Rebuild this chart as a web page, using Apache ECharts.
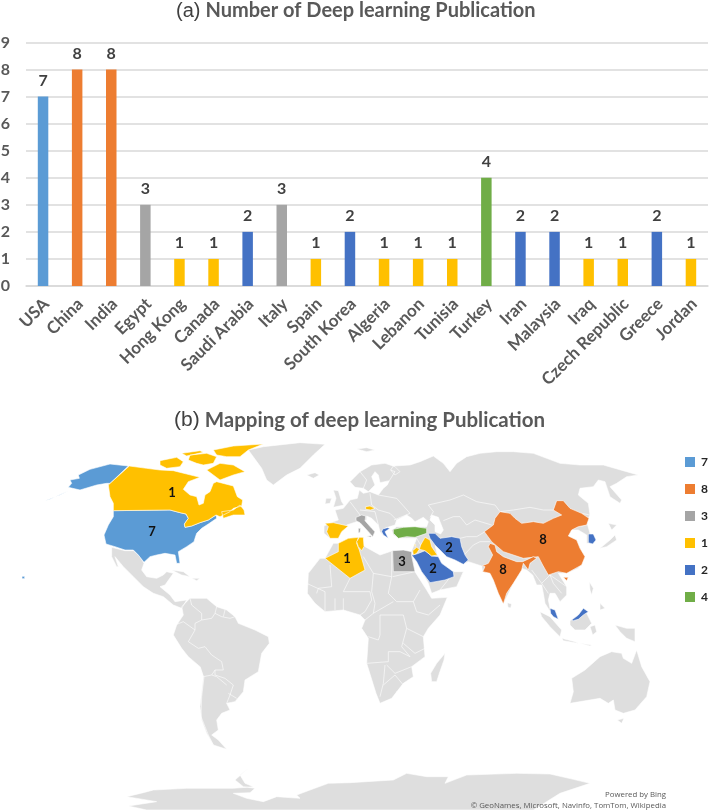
<!DOCTYPE html>
<html>
<head>
<meta charset="utf-8">
<style>
  html, body { margin: 0; padding: 0; background: #fff; }
  #main { width: 709px; height: 812px; }
</style>
<script src="https://cdn.jsdelivr.net/npm/echarts@6/dist/echarts.min.js"></script>
</head>
<body>
<div id="main"></div>
<script>
// bar chart values
const categories = ['USA', 'China', 'India', 'Egypt', 'Hong Kong', 'Canada', 'Saudi Arabia', 'Italy', 'Spain', 'South Korea',
  'Algeria', 'Lebanon', 'Tunisia', 'Turkey', 'Iran', 'Malaysia', 'Iraq', 'Czech Republic', 'Greece', 'Jordan'];
const publications = [7, 8, 8, 3, 1, 1, 2, 3, 1, 2, 1, 1, 1, 4, 2, 2, 1, 1, 2, 1];

// legend, same colours for both charts
const legendValues = [7, 8, 3, 1, 2, 4];
const legendColors = ['#5B9BD5', '#ED7D31', '#A5A5A5', '#FFC000', '#4472C4', '#70AD47'];

// countries that print their number on the map
const labelledOnMap = ['USA', 'Canada', 'Algeria', 'Egypt', 'Saudi Arabia', 'Iran', 'China', 'India'];

// map outlines were traced at 3x, each list is relative to a corner of the map sheet
const NA = [0, 400], ME = [300, 430], SAM = [0, 620], AF = [300, 560], SEA = [520, 560];
const ring = (tile, flat) => {
  const pts = [];
  for (let i = 0; i < flat.length; i += 2) pts.push([tile[0] + flat[i] / 3, tile[1] + flat[i + 1] / 3]);
  return pts;
};

const land = [
  // Eurasia, with the Caspian as a hole
  [ring(ME, [72,288,100,275,115,270,105,240,130,235,150,210,172,205,178,180,190,190,210,185,235,195,250,175,262,165,268,152,240,158,235,135,225,125,215,140,225,165,205,185,190,175,165,172,150,155,180,125,215,105,255,100,285,110,300,125,285,135,272,120,280,108,330,105,360,95,400,78,430,100,450,125,470,100,500,80,540,70,590,65,640,65,700,70,780,100,840,105,910,105,980,125,1015,135,980,140,950,160,930,170,965,210,960,220,930,200,915,155,895,150,880,170,840,175,835,195,865,220,870,255,860,275,870,310,885,325,880,340,860,340,860,315,835,300,815,300,805,318,830,330,840,355,855,380,835,415,800,430,775,430,800,470,800,495,780,515,765,490,750,490,745,510,750,535,775,568,760,560,735,520,730,490,725,465,710,465,698,435,680,420,665,415,640,460,610,522,580,450,570,430,548,425,545,408,505,395,490,403,465,390,440,378,420,360,405,345,412,375,425,400,460,425,490,425,470,470,420,480,395,490,385,460,365,425,345,380,335,362,340,350,350,325,295,325,280,315,275,300,290,290,310,290,345,290,380,290,385,275,370,262,345,275,335,265,320,255,290,270,285,285,262,292,255,295,245,305,250,318,240,305,235,285,215,265,200,258,200,270,170,275,140,285,130,295,115,325,90,325,72,310]),
   ring(ME, [390,270,405,285,405,305,422,312,430,300,420,275,415,262,395,255])],
  [ring(AF, [100,-50,115,-50,175,-68,195,-40,240,-15,278,-28,335,-25,345,35,380,90,395,115,442,112,420,165,385,205,370,230,375,290,335,320,340,350,310,370,275,415,240,430,228,400,200,310,205,235,185,205,195,180,180,165,130,150,75,155,45,130,22,100,25,40,60,-5,75,-5])],
  [ring(AF, [435,280,432,300,418,340,410,365,395,365,392,340,410,310])],
  // Greenland, Iceland, UK, Ireland, Svalbard
  [ring(NA, [745,150,790,140,900,128,975,133,940,165,900,205,860,225,820,255,800,240,785,205])],
  [ring(ME, [20,135,45,128,58,135,40,145])],
  [ring(ME, [100,180,115,182,125,215,132,225,100,232,108,205])],
  [ring(ME, [78,205,95,205,90,220,75,222])],
  [ring(ME, [170,57,200,53,225,60,200,65])],
  // Mexico down to Panama, Caribbean
  [ring(NA, [335,442,375,452,400,452,420,470,432,490,425,510,440,530,470,535,490,525,500,515,520,520,495,555,480,560,510,585,525,605,560,600,545,625,520,615,490,590,460,580,430,560,400,530,370,500,345,470,355,500,350,500,335,470])],
  [ring(NA, [515,510,550,515,570,530,545,525])],
  [ring(NA, [575,535,600,535,590,542])],
  // South America
  [ring(SAM, [570,-65,620,-65,650,-40,680,-30,705,-10,715,10,765,30,805,50,808,70,785,100,775,155,735,180,730,215,705,245,680,250,690,270,665,280,650,300,655,330,635,345,655,360,680,388,640,375,620,340,605,300,600,260,610,170,600,140,565,110,545,85,520,45,530,15,550,-15,545,-40])],
  // Japan, Sri Lanka, Philippines, Indonesia
  [ring(ME, [930,330,945,315,950,330,920,350,900,355])],
  [ring(ME, [925,280,950,285,935,300])],
  [ring(ME, [622,518,635,522,632,534,624,532])],
  [ring(SEA, [208,65,220,85,215,105,210,90])],
  [ring(SEA, [240,130,255,145,240,150])],
  [ring(SEA, [150,182,175,165,195,150,215,190,195,210,165,210,150,195])],
  [ring(SEA, [60,155,90,170,125,210,120,230,90,200,65,170])],
  [ring(SEA, [125,235,165,245,175,250,130,242])],
  [ring(SEA, [180,250,215,255,210,258])],
  [ring(SEA, [210,200,225,195,230,215,218,225])],
  [ring(SEA, [285,195,320,205,345,205,345,245,320,235,300,215])],
  // Australia, Tasmania
  [ring(SEA, [155,355,195,330,240,290,275,275,305,280,310,295,335,310,350,270,365,320,390,365,380,410,345,450,310,460,285,450,280,420,265,430,240,415,150,430,160,395])],
  [ring(SEA, [292,480,312,475,305,490])],
  // Antarctica, cut by the sheet
  [ring(SAM, [380,530,430,518,460,510,560,505,700,505,760,500,735,490,720,465,745,445,705,480,730,500,765,505,750,518,700,520,740,535,790,545,830,530,900,535,890,525,930,510,985,490,1050,488,1180,480,1220,460,1280,470,1345,470,1335,490,1400,465,1550,460,1650,462,1720,478,1770,490,1680,520,1600,570,440,570,385,558,470,545])]
];

const borders = [
  // Europe
  [ME, [150,215,180,255,170,275]], [ME, [210,190,215,225,235,240,270,250,290,270]], [ME, [180,240,225,245,235,285]],
  [ME, [235,195,290,205,330,250,282,270]], [ME, [268,152,285,125,272,120]], [ME, [180,125,200,150,190,175]],
  // Central Asia, Middle East
  [ME, [390,262,400,245,385,225,450,210,490,195,530,215,585,225,600,245,640,240,690,232,730,240,765,240]],
  [ME, [430,272,460,260,480,260,500,285,525,270,575,285]], [ME, [480,325,500,320,530,320,555,305]],
  [ME, [495,372,520,345,540,335,570,335]], [ME, [462,425,440,455,420,480]], [ME, [350,325,362,345]],
  [ME, [815,300,835,290,860,285]], [ME, [870,255,845,250]],
  // South East Asia
  [SEA, [35,30,65,70,90,45,100,70,125,100]], [SEA, [65,70,85,100]], [SEA, [90,45,140,80]],
  // Africa
  [AF, [90,15,95,80,55,85,50,100]], [AF, [150,55,130,95,210,95,215,120,195,155,180,165]], [AF, [190,-10,220,40,275,50,265,100,290,125,340,125,350,155]],
  [AF, [220,40,215,95,225,130,220,160,195,180]], [AF, [220,160,280,125]], [AF, [275,-25,275,50]], [AF, [278,50,345,35]],
  [AF, [340,125,360,90]], [AF, [350,155,385,165,420,135]], [AF, [240,165,240,225,235,240,205,230]], [AF, [240,165,310,165,320,205,305,260,330,290,300,275,265,275,265,305,200,310]],
  [AF, [320,205,370,230]], [AF, [310,250,345,280,375,265]], [AF, [255,315,250,370,240,410]], [AF, [250,375,285,345,310,375]], [AF, [260,315,285,340,335,320]],
  [AF, [105,115,105,150]], [AF, [130,115,130,150]], [AF, [75,95,75,155]], [AF, [20,70,75,95]], [AF, [290,395,300,392,302,400,293,404,290,395]],
  // South America
  [SAM, [570,-65,575,-45,605,-20,605,0,585,10,585,30]], [SAM, [605,0,635,-5,645,-20,665,-10,690,-5,705,-10]], [SAM, [650,-40,645,-20]], [SAM, [675,-30,670,-10]],
  [SAM, [525,15,550,5,585,30,565,65,595,85,615,80,635,105,665,125,670,150,645,150,645,165,675,175,700,195,690,225,680,250]],
  [SAM, [612,170,605,230,603,290,625,345,640,375]], [SAM, [610,170,635,165,650,170,680,195]], [SAM, [645,150,635,165]], [SAM, [685,220,710,235]], [SAM, [600,140,610,170]]
];

const countries = [
  { name: 'USA', value: 7, cp: [152, 532], shapes: [
    [ring(NA, [340,332,510,330,540,338,558,342,565,355,553,372,555,382,575,378,600,368,625,360,648,345,650,355,625,372,605,385,590,400,585,415,582,425,560,440,535,455,540,490,530,490,525,465,495,460,470,465,450,470,432,487,415,465,400,450,375,450,345,440,318,432,312,405,325,375,340,350])],
    [ring(NA, [385,198,330,192,270,208,235,225,238,235,210,240,215,250,205,262,240,270,290,255,320,250,330,250,350,262,352,290,340,265,325,255])],
    [ring(NA, [205,272,150,298,135,302,180,285])],
    [ring(NA, [66,529,74,529,74,536,66,536])]
  ] },
  { name: 'Canada', value: 1, cp: [172, 493], shapes: [
    [ring(NA, [388,198,440,205,480,210,520,212,560,222,600,232,565,245,550,268,570,285,590,290,597,315,610,310,615,285,630,275,640,250,650,245,700,258,712,290,728,300,725,318,700,325,690,335,660,350,648,345,625,360,600,368,575,378,555,382,553,372,565,355,558,342,540,338,510,330,340,332,340,310,330,290,325,255])],
    [ring(NA, [665,335,700,330,720,315,732,330,735,345,700,345,670,355])],
    [ring(NA, [620,210,660,190,700,195,735,215,700,225,660,240,640,225])],
    [ring(NA, [480,182,530,172,550,185,540,200,500,205,480,195])],
    [ring(NA, [640,150,700,138,790,132,745,150,720,170,680,170,650,165])],
    [ring(NA, [570,165,620,160,650,170,640,190,610,195,590,190,565,180])],
    [ring(NA, [545,160,600,152,610,157,560,168])]
  ] },
  { name: 'China', value: 8, cp: [543, 540], shapes: [
    [ring(ME, [553,305,580,285,585,265,600,245,630,250,645,265,665,280,700,275,730,280,760,265,785,255,760,240,770,212,790,212,810,235,845,250,867,265,860,285,835,290,815,300,805,318,830,330,840,355,855,380,845,405,800,430,775,425,745,435,728,405,715,380,670,385,610,365,575,335])],
    [ring(ME, [790,442,805,442,800,452])]
  ] },
  { name: 'India', value: 8, cp: [503, 570], shapes: [
    [ring(ME, [570,340,585,345,590,365,610,380,650,395,668,395,700,380,710,385,690,400,685,420,670,400,665,420,640,460,620,490,610,522,595,490,580,450,570,430,548,425,555,410,545,408,565,400,578,375,565,350])]
  ] },
  { name: 'Egypt', value: 3, cp: [402, 562], shapes: [[ring(ME, [278,362,310,360,335,365,335,378,345,425,280,425])]] },
  { name: 'Saudi Arabia', value: 2, cp: [433, 569], shapes: [[ring(ME, [335,375,350,372,375,362,395,378,415,380,425,400,460,425,462,440,435,450,390,458,380,445,365,425,350,395])]] },
  { name: 'Iran', value: 2, cp: [449, 548], shapes: [[ring(ME, [385,310,405,310,420,325,455,320,480,325,485,350,495,375,505,390,490,403,465,390,440,380,420,360,405,345,390,325])]] },
  { name: 'Iraq', value: 1, shapes: [[ring(ME, [362,345,375,322,390,330,395,350,412,375,395,378,375,362,358,358])]] },
  { name: 'Jordan', value: 1, shapes: [[ring(ME, [338,362,350,352,358,358,350,370,340,375])]] },
  { name: 'Lebanon', value: 1, shapes: [[ring(ME, [342,345,347,342,346,350])]] },
  { name: 'Turkey', value: 4, shapes: [[ring(ME, [280,298,310,292,345,290,380,295,380,310,345,322,320,320,295,325,280,310])]] },
  { name: 'Greece', value: 2, shapes: [[ring(ME, [248,297,262,293,270,295,255,305,265,325,250,315,245,305])]] },
  { name: 'Italy', value: 3, shapes: [
    [ring(ME, [168,262,185,255,197,258,195,272,215,295,225,305,218,320,205,305,180,278,168,272])],
    [ring(ME, [175,295,182,295,180,308,175,308])],
    [ring(ME, [200,318,215,317,212,322])]
  ] },
  { name: 'Czech Republic', value: 1, shapes: [[ring(ME, [197,230,210,228,225,235,212,240,197,238])]] },
  { name: 'Spain', value: 1, shapes: [[ring(ME, [75,280,100,278,145,288,125,305,115,325,90,325,80,305,85,290])]] },
  { name: 'Algeria', value: 1, cp: [347, 559], shapes: [[ring(ME, [115,340,145,325,175,322,170,340,178,360,195,420,150,445,75,385,115,365])]] },
  { name: 'Tunisia', value: 1, shapes: [[ring(ME, [178,322,190,322,192,350,185,362,175,350,170,335])]] },
  { name: 'South Korea', value: 2, shapes: [[ring(ME, [865,312,880,312,888,330,878,342,865,338])]] },
  { name: 'Malaysia', value: 2, shapes: [
    [ring(SEA, [90,145,105,150,115,178,100,170,92,160])],
    [ring(SEA, [155,180,175,165,190,145,205,155,190,165,175,178,160,182])]
  ] }
];

const worldMap = {
  type: 'FeatureCollection',
  features: [
    { type: 'Feature', properties: { name: 'land' }, geometry: { type: 'MultiPolygon', coordinates: land } },
    { type: 'Feature', properties: { name: 'borders' }, geometry: { type: 'MultiLineString', coordinates: borders.map(b => ring(b[0], b[1])) } }
  ].concat(countries.map(c => ({
    type: 'Feature',
    properties: c.cp ? { name: c.name, cp: c.cp } : { name: c.name },
    geometry: { type: 'MultiPolygon', coordinates: c.shapes }
  })))
};
echarts.registerMap('sheet', worldMap);

const colorOf = (v) => legendColors[legendValues.indexOf(v)];

// one bar series per legend entry, laid over each other so every category keeps its slot
const barSeries = legendValues.map((lv) => ({
  type: 'bar',
  name: String(lv),
  data: publications.map(v => (v === lv ? v : null)),
  barWidth: 10.5,
  barGap: '-100%',
  silent: true,
  itemStyle: { color: colorOf(lv) },
  label: { show: true, position: 'top', distance: 8, fontFamily: 'Lato', fontWeight: 'bold', fontSize: 16, color: '#404040' }
}));

const chart = echarts.init(document.getElementById('main'));
const titleRich = (size, tsize) => ({
  p: { fontFamily: 'Liberation Sans', fontWeight: 'normal', fontSize: size, color: '#404040' },
  t: { fontFamily: 'Lato', fontWeight: 'bold', fontSize: tsize, color: '#595959' }
});
const footerStyle = { fontFamily: 'Open Sans', fontWeight: 'normal', fontSize: 7.8, color: '#595959' };
chart.setOption({
  animation: false,
  backgroundColor: '#fff',
  title: [
    { left: 171, top: -4, text: '{p|(a)} {t|Number of Deep learning Publication}', textStyle: { rich: titleRich(20, 20) } },
    { left: 169, top: 405, text: '{p|(b)} {t|Mapping of deep learning Publication}', textStyle: { rich: titleRich(21, 20.5) } },
    { right: 38, top: 786, text: 'Powered by Bing', textStyle: footerStyle },
    { right: 38, top: 797, text: '© GeoNames, Microsoft, Navinfo, TomTom, Wikipedia', textStyle: footerStyle }
  ],
  grid: { left: 26, top: 42.5, width: 682, height: 243.5, outerBoundsMode: 'none' },
  xAxis: {
    type: 'category',
    data: categories,
    axisLine: { lineStyle: { color: '#D9D9D9', width: 1.5 } },
    axisTick: { show: false },
    axisLabel: { interval: 0, rotate: 45, margin: 12, verticalAlign: 'top', lineHeight: 9, fontFamily: 'Lato', fontWeight: 'bold', fontSize: 17, color: '#595959' }
  },
  yAxis: {
    type: 'value',
    min: 0,
    max: 9,
    interval: 1,
    axisLine: { show: false },
    axisTick: { show: false },
    splitLine: { lineStyle: { color: '#D9D9D9', width: 1.5 } },
    axisLabel: { margin: 16, fontFamily: 'Lato', fontWeight: 'bold', fontSize: 16, color: '#595959' }
  },
  legend: {
    data: legendValues.map(String),
    orient: 'vertical',
    left: 680,
    top: 451,
    itemWidth: 10,
    itemHeight: 10,
    itemGap: 15,
    icon: 'rect',
    selectedMode: false,
    textStyle: { fontFamily: 'Lato', fontWeight: 'bold', fontSize: 12, color: '#262626', padding: [0, 0, 0, 1] }
  },
  series: barSeries.concat([
    {
      type: 'map',
      map: 'sheet',
      silent: true,
      showLegendSymbol: false,
      projection: { project: (p) => p, unproject: (p) => p },
      boundingCoords: [[0, 420], [709, 812]],
      left: 0,
      top: 420,
      width: 709,
      height: 392,
      itemStyle: { areaColor: '#DEDEDE', borderColor: '#fff', borderWidth: 0.6 },
      label: { show: false },
      data: countries.map(c => ({
        name: c.name,
        value: c.value,
        itemStyle: { areaColor: colorOf(c.value) },
        label: { show: labelledOnMap.includes(c.name), formatter: '{c}', fontFamily: 'Lato', fontWeight: 'bold', fontSize: 13, color: '#111' }
      }))
    }
  ])
});
window.addEventListener('resize', function () {
  chart.resize();
});
</script>
</body>
</html>
